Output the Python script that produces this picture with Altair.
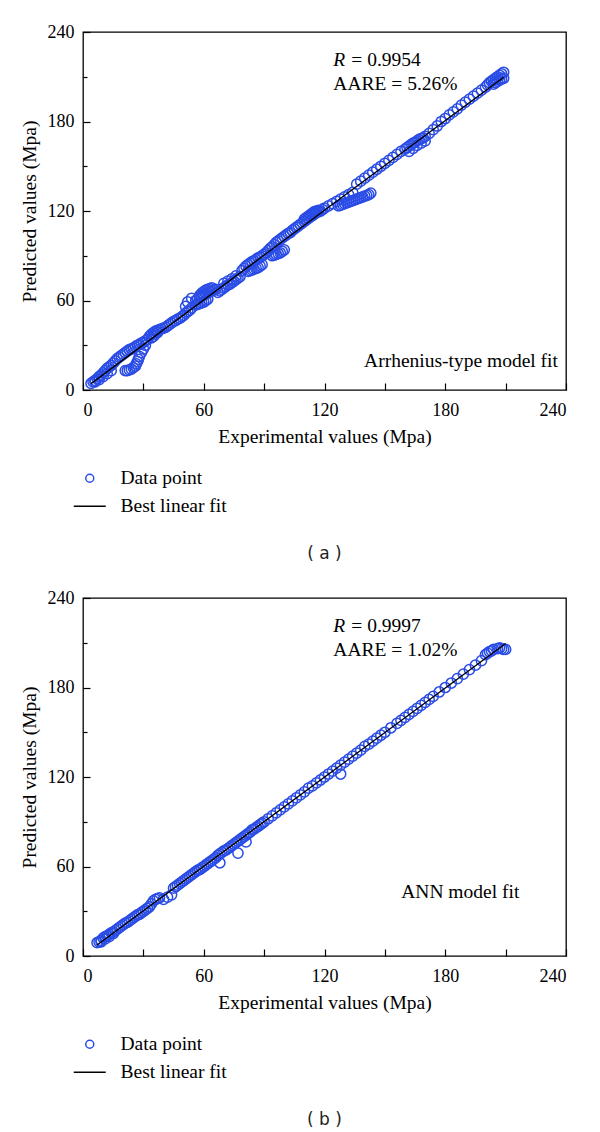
import altair as alt
import pandas as pd

# ---------------- data ----------------
# Panel (a): Arrhenius-type model
a_exp_1 = [4, 5, 6, 7, 8, 9, 10, 11, 12, 13, 14, 15, 16, 17, 18, 19, 20, 21, 22, 23, 24, 25, 26, 27, 28, 29, 30, 31, 32, 6, 8, 10, 12, 14]
a_pred_1 = [4.5, 5.5, 6.5, 7.5, 9, 10, 11.5, 13, 14.5, 15.5, 16.5, 18, 19.5, 21, 22, 23, 24, 25, 26, 27, 27.5, 28, 29, 30, 30.5, 31.5, 32, 33, 34, 5.5, 7, 9, 11, 13]
a_exp_2 = [21, 22, 23, 24, 25, 26, 26.5, 27, 27.5, 28, 29, 30, 31]
a_pred_2 = [13, 13, 13.5, 14, 15, 16, 17.5, 19, 20.5, 22.5, 25, 27.5, 30]
a_exp_3 = [33, 34, 35, 36, 37, 38, 39, 40, 34, 35, 36, 37]
a_pred_3 = [36, 37.5, 38.5, 39.5, 40, 40.5, 41, 41.5, 35, 36, 37.5, 38.5]
a_exp_4 = [41, 42, 43, 44, 45, 46, 47, 48, 49, 50, 51, 52, 53, 54, 51, 52, 54]
a_pred_4 = [42, 43, 44, 45, 46, 46.5, 47.5, 48, 49, 50, 51.5, 52.5, 53.5, 55, 56, 59, 61.5]
a_exp_5 = [56, 57, 58, 59, 60, 61, 62, 63, 64, 65, 66, 58, 59, 60, 61, 62, 63, 64, 56, 57, 58, 59, 60, 61, 62]
a_pred_5 = [60, 61, 62, 63, 64, 64.5, 65, 66, 66.5, 67, 67.5, 63.5, 65, 66, 67, 67.5, 68, 68.5, 57, 57.5, 58, 58.5, 59, 60, 61]
a_exp_6 = [67, 68, 69, 70, 71, 72, 73, 74, 75, 76, 77, 78, 70, 72, 74, 76]
a_pred_6 = [65.5, 66.5, 67.5, 68.5, 69.5, 70.5, 71, 72, 73, 74, 75, 76, 71.5, 73, 74.5, 76.5]
a_exp_7 = [79, 80, 81, 82, 83, 84, 85, 86, 87, 88, 89, 90, 82, 83, 84, 85, 86, 87, 88, 89]
a_pred_7 = [80, 81.5, 83, 84, 85, 86, 86.5, 87.5, 88.5, 89, 90, 91, 79.5, 80, 80.5, 81, 81.5, 82, 83, 84]
a_exp_8 = [91, 92, 93, 94, 95, 96, 97, 98, 99, 100, 101, 102, 94, 95, 96, 97, 98, 99, 100]
a_pred_8 = [92, 93.5, 95, 96, 97.5, 99, 100, 101, 102, 103, 104, 105, 90, 90.5, 91, 91.5, 92, 93, 94]
a_exp_9 = [103, 104, 105, 106, 107, 108, 109, 110, 111, 112, 113, 114, 115, 116, 117, 110, 111, 112, 113, 114, 115, 116, 117]
a_pred_9 = [105.5, 107, 108, 109, 110, 111, 112, 113, 114, 115, 116, 117, 118, 119, 119.5, 114.5, 115.5, 116.5, 117.5, 118.5, 119.5, 120, 120.5]
a_exp_10 = [118, 119, 120, 122, 124, 126, 128, 130, 132, 134]
a_pred_10 = [120, 121, 122, 123.5, 125, 126.5, 128, 129.5, 131, 132.5]
a_exp_11 = [127, 128, 129, 130, 131, 132, 133, 134, 135, 136, 137, 138, 139, 140, 141, 142, 143]
a_pred_11 = [123.5, 124, 124.5, 125, 125.5, 126, 126.5, 127, 127.5, 128, 128.5, 129, 129.5, 130, 130.5, 131, 132]
a_exp_12 = [136, 138, 140, 142, 144, 146, 148, 150, 152, 154]
a_pred_12 = [138, 140, 142, 144, 146, 148, 150, 152, 154, 156]
a_exp_13 = [156, 158, 160, 161, 162, 163, 164, 165, 166, 167, 168, 169, 170, 172, 174, 176, 162, 164, 166, 168, 170]
a_pred_13 = [158, 160, 161.5, 162.5, 163.5, 164.5, 165.5, 166, 167, 168, 168.5, 169, 170, 172, 174.5, 177, 160, 162, 164, 165.5, 167]
a_exp_14 = [178, 180, 182, 184, 186, 188, 190, 192, 194, 196, 198, 200, 201, 202, 203, 204, 205, 206, 207, 208, 209, 205, 206, 207, 208, 209, 204]
a_pred_14 = [180, 182, 184.5, 186.5, 188.5, 191, 193, 195, 197, 199, 201, 203, 204.5, 206, 207, 208, 209, 210, 211, 212, 213, 206, 207, 208, 208.5, 209, 205]

# Panel (b): ANN model
b_exp_1 = [7, 8, 9, 10, 11, 12, 13, 14, 15, 16, 17, 18, 19, 20, 9, 11, 13, 15]
b_pred_1 = [9, 9.5, 10.5, 12, 13, 13.5, 14.5, 15.5, 16, 17, 18, 19, 20, 21, 9.5, 11.5, 13, 15]
b_exp_2 = [21, 22, 23, 24, 25, 26, 27, 28, 29, 30, 31, 32, 33, 34, 35, 36, 37, 38, 40, 42, 44,
           45, 46, 47, 48, 49, 50, 51, 52, 53, 54, 55, 56, 57, 58, 59, 60, 61, 62, 63, 64, 65, 66]
b_pred_2 = [22, 22.5, 23.5, 24.5, 25.5, 26.5, 27.5, 28, 29, 30, 31, 32, 33, 35, 37, 38, 38.5, 39, 38, 39.5, 41,
            45.5, 46.5, 47.5, 48.5, 49.5, 50.5, 51.5, 52.5, 53.5, 54.5, 55.5, 56.5, 57.5, 58, 59, 60, 61, 62, 63, 64, 65, 66]
b_exp_3 = [67, 68, 69, 70, 71, 72, 73, 74, 75, 76, 77, 78, 79, 80, 81, 82, 83, 84, 85, 86, 87, 88, 89, 90,
           92, 94, 96, 98, 100, 68, 77, 81]
b_pred_3 = [67.5, 68.5, 69.5, 70.5, 71, 72, 73, 74, 75, 76, 77, 78, 79, 80, 81, 82, 83, 84.5, 85, 86, 87, 88, 89, 90,
            92, 94, 96, 98, 100, 62.5, 69, 76.5]
b_exp_4 = [102, 104, 106, 108, 110, 112, 114, 116, 118, 120, 122, 124, 126, 128, 130, 132, 134, 136, 138, 140,
           142, 144, 146, 148, 150, 153, 156, 158, 160, 162, 164, 166, 168, 170, 172, 174, 128]
b_pred_4 = [102, 104, 106, 108, 110, 112.5, 114, 116, 118, 120, 122, 124, 126, 128, 130, 132, 134, 136, 138, 140.5,
            142, 144, 146, 148, 150, 153, 156, 158, 160, 162, 164, 166, 168, 170, 172, 174, 122]
b_exp_5 = [177, 180, 183, 186, 189, 192, 195, 198, 200, 202, 204, 206, 207, 208, 209, 210, 201, 203]
b_pred_5 = [177, 180, 183, 186, 189, 192, 195, 198, 202, 204, 205.5, 206, 206.5, 206, 205.5, 205.5, 203, 204.5]

series_names = ["Data point", "Best linear fit"]
tick_values = [0, 30, 60, 90, 120, 150, 180, 210, 240]
axis_domain = [0, 240]
x_title = "Experimental values (Mpa)"
y_title = "Predicted values (Mpa)"

r_values = ["= 0.9954", "= 0.9997"]
aare_values = ["AARE = 5.26%", "AARE = 1.02%"]
model_labels = ["Arrhenius-type model fit", "ANN model fit"]
captions = ["( a )", "( b )"]

# annotation anchors in data units
stat_x = 124.4
r_y = 217.5
aare_y = 200.8
model_x = [236.0, 216.8]
model_y = [15.6, 38.7]

BLUE = "#2a4ce6"
SERIF = "Liberation Serif"


def cat(*lists):
    out = []
    for l in lists:
        out.extend(l)
    return out


def make_panel(exp, pred, idx):
    pts = pd.DataFrame({"exp": exp, "pred": pred, "series": series_names[0]})

    # x: inward ticks obtained by pulling the axis 7px inside and drawing 7px ticks outward
    x_axis = alt.Axis(
        values=tick_values, title=x_title,
        labelExpr="datum.value % 60 === 0 ? datum.label : ''",
        grid=False, ticks=True, tickSize=7, tickWidth=1.2, tickColor="black",
        offset=-7, labelPadding=11, titlePadding=8,
    )
    # y: inward ticks drawn as short dashes of the grid lines (long at 60s, short at 30s)
    y_axis = alt.Axis(
        values=tick_values, title=y_title,
        labelExpr="datum.value % 60 === 0 ? datum.label : ''",
        grid=True,
        gridDash={"condition": {"test": "datum.value % 60 === 0", "value": [7, 2000]}, "value": [4, 2000]},
        labelPadding=9, titlePadding=8,
    )
    x_enc = alt.X("exp:Q", scale=alt.Scale(domain=axis_domain, nice=False, zero=False), axis=x_axis)
    y_enc = alt.Y("pred:Q", scale=alt.Scale(domain=axis_domain, nice=False, zero=False), axis=y_axis)

    leg = dict(
        orient="none", legendX=-3, legendY=436.5, title=None,
        labelFont=SERIF, labelFontSize=19.5, labelColor="black",
        symbolSize=64, symbolStrokeWidth=1.5, labelOffset=21,
        rowPadding=7, padding=0,
    )
    points = alt.Chart(pts).mark_point(filled=False, size=105, strokeWidth=1.5, opacity=1).encode(
        x=x_enc, y=y_enc,
        color=alt.Color("series:N", scale=alt.Scale(domain=series_names, range=[BLUE, "black"]),
                        legend=alt.Legend(**leg)),
        shape=alt.Shape("series:N", scale=alt.Scale(domain=series_names, range=["circle", "M-4,0L4,0"]),
                        legend=alt.Legend(**leg)),
    )

    fit = alt.Chart(pts).transform_regression("exp", "pred").mark_line(
        color="black", strokeWidth=1.3
    ).encode(x="exp:Q", y="pred:Q")

    r_df = pd.DataFrame({"exp": [stat_x], "pred": [r_y], "t": ["R"]})
    r_mark = alt.Chart(r_df).mark_text(
        font=SERIF, fontSize=19.5, fontStyle="italic", align="left", baseline="alphabetic", color="black"
    ).encode(x="exp:Q", y="pred:Q", text="t:N")

    rv_df = pd.DataFrame({"exp": [stat_x], "pred": [r_y], "t": [r_values[idx]]})
    rv_mark = alt.Chart(rv_df).mark_text(
        font=SERIF, fontSize=19.5, align="left", baseline="alphabetic", color="black", dx=18
    ).encode(x="exp:Q", y="pred:Q", text="t:N")

    aare_df = pd.DataFrame({"exp": [stat_x], "pred": [aare_y], "t": [aare_values[idx]]})
    aare_mark = alt.Chart(aare_df).mark_text(
        font=SERIF, fontSize=19.5, align="left", baseline="alphabetic", color="black"
    ).encode(x="exp:Q", y="pred:Q", text="t:N")

    m_df = pd.DataFrame({"exp": [model_x[idx]], "pred": [model_y[idx]], "t": [model_labels[idx]]})
    m_mark = alt.Chart(m_df).mark_text(
        font=SERIF, fontSize=19.5, align="right", baseline="alphabetic", color="black"
    ).encode(x="exp:Q", y="pred:Q", text="t:N")

    return alt.layer(points, fit, r_mark, rv_mark, aare_mark, m_mark).properties(
        width=483, height=358,
        title=alt.TitleParams(
            text=captions[idx], orient="bottom", anchor="middle", frame="group",
            font="DejaVu Sans", fontSize=17, fontWeight="normal", color="#222222", offset=29,
        ),
    )


panel_a = make_panel(
    cat(a_exp_1, a_exp_2, a_exp_3, a_exp_4, a_exp_5, a_exp_6, a_exp_7, a_exp_8, a_exp_9, a_exp_10, a_exp_11, a_exp_12, a_exp_13, a_exp_14),
    cat(a_pred_1, a_pred_2, a_pred_3, a_pred_4, a_pred_5, a_pred_6, a_pred_7, a_pred_8, a_pred_9, a_pred_10, a_pred_11, a_pred_12, a_pred_13, a_pred_14),
    0,
)
panel_b = make_panel(
    cat(b_exp_1, b_exp_2, b_exp_3, b_exp_4, b_exp_5),
    cat(b_pred_1, b_pred_2, b_pred_3, b_pred_4, b_pred_5),
    1,
)

chart = alt.vconcat(panel_a, panel_b, spacing=25).resolve_scale(color="independent", shape="independent").properties(
    padding={"left": 10, "top": 14, "right": 5, "bottom": 5}
).configure_view(
    stroke="black", strokeWidth=1.3
).configure_axis(
    domain=False, ticks=False, grid=True, gridColor="black", gridOpacity=1, gridWidth=1.2,
    labelFont=SERIF, labelFontSize=18, labelColor="black",
    titleFont=SERIF, titleFontSize=19.5, titleFontWeight="normal", titleColor="black",
)

chart.save("out.html", embed_options={"renderer": "svg", "actions": False})
